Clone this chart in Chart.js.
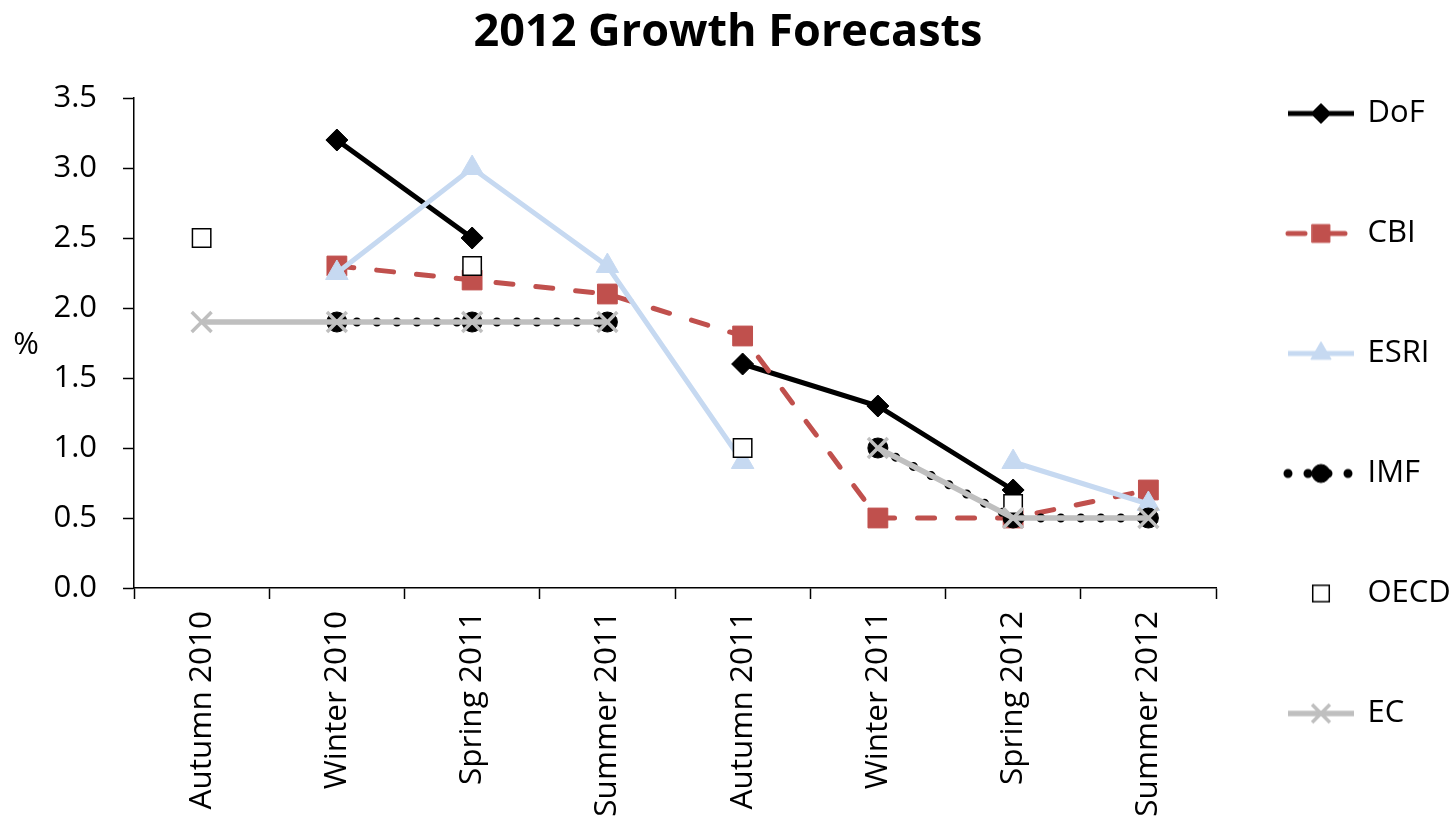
<!DOCTYPE html>
<html>
<head>
<meta charset="utf-8">
<title>2012 Growth Forecasts</title>
<script src="https://cdn.jsdelivr.net/npm/chart.js@4.4.1/dist/chart.umd.min.js"></script>
<style>
  html, body { margin: 0; padding: 0; background: #fff; }
  #wrap { width: 1456px; height: 826px; position: relative; }
</style>
</head>
<body>
<div id="wrap"><canvas id="chart"></canvas></div>
<script>
// ============================================================
// Data
// ============================================================

const CATEGORIES = ['Autumn 2010', 'Winter 2010', 'Spring 2011', 'Summer 2011',
                    'Autumn 2011', 'Winter 2011', 'Spring 2012', 'Summer 2012'];

const DOF  = [null, 3.2, 2.5, null, 1.6, 1.3, 0.7, null];
const CBI  = [null, 2.3, 2.2, 2.1, 1.8, 0.5, 0.5, 0.7];
const ESRI = [null, 2.25, 3.0, 2.3, 0.9, null, 0.9, 0.6];
const IMF  = [null, 1.9, 1.9, 1.9, null, 1.0, 0.5, 0.5];
const OECD = [2.5, null, 2.3, null, 1.0, null, 0.6, null];
const EC   = [1.9, 1.9, 1.9, 1.9, null, 1.0, 0.5, 0.5];

const Y_TICKS = [0, 0.5, 1.0, 1.5, 2.0, 2.5, 3.0, 3.5];
const Y_UNIT = '%';
const TITLE = '2012 Growth Forecasts';

// ============================================================
// Styles
// ============================================================

const FONT = "'Open Sans', 'DejaVu Sans', sans-serif";
const RED = '#C0504D';
const BLUE = '#C6D9F1';
const GREY = '#BFBFBF';

// ============================================================
// Legend symbols (line + marker drawn into a small canvas)
// ============================================================

function drawMarker(g, style, x, y, r, fill, stroke, bw) {
  g.save();
  g.fillStyle = fill;
  g.strokeStyle = stroke;
  g.lineWidth = bw;
  g.beginPath();
  if (style === 'rectRot') {
    g.moveTo(x, y - r); g.lineTo(x + r, y); g.lineTo(x, y + r); g.lineTo(x - r, y);
    g.closePath(); g.fill(); g.stroke();
  } else if (style === 'rect') {
    const s = r * Math.SQRT1_2;
    g.rect(x - s, y - s, 2 * s, 2 * s); g.fill(); g.stroke();
  } else if (style === 'triangle') {
    for (let k = 0; k < 3; k++) {
      const a = k * 2 * Math.PI / 3;
      const px = x + Math.sin(a) * r, py = y - Math.cos(a) * r;
      if (k === 0) g.moveTo(px, py); else g.lineTo(px, py);
    }
    g.closePath(); g.fill(); g.stroke();
  } else if (style === 'circle') {
    g.arc(x, y, r, 0, Math.PI * 2); g.fill(); g.stroke();
  } else if (style === 'crossRot') {
    const s = r * Math.SQRT1_2;
    g.moveTo(x - s, y - s); g.lineTo(x + s, y + s);
    g.moveTo(x + s, y - s); g.lineTo(x - s, y + s);
    g.stroke();
  }
  g.restore();
}

function legendSymbol(ds) {
  const c = document.createElement('canvas');
  c.width = 74; c.height = 32;
  const g = c.getContext('2d');
  const y = 16;
  if (ds.showLine !== false) {
    g.strokeStyle = ds.borderColor;
    g.lineWidth = ds.borderWidth;
    g.lineCap = ds.borderCapStyle || 'butt';
    g.setLineDash(ds.borderDash || []);
    g.beginPath(); g.moveTo(5, y); g.lineTo(71, y); g.stroke();
    g.setLineDash([]);
  }
  drawMarker(g, ds.pointStyle, 38, y, ds.pointRadius * 0.9,
             ds.pointBackgroundColor, ds.pointBorderColor, ds.pointBorderWidth);
  return c;
}

// ============================================================
// Plugins
// ============================================================

// horizontal "%" beside the value axis
const unitLabel = {
  id: 'unitLabel',
  afterDraw(chart) {
    const { ctx, chartArea, scales } = chart;
    ctx.save();
    ctx.font = `31px ${FONT}`;
    ctx.fillStyle = '#000';
    ctx.textAlign = 'center';
    ctx.textBaseline = 'middle';
    ctx.fillText(Y_UNIT, scales.y.left + 26, (chartArea.top + chartArea.bottom) / 2 + 2);
    ctx.restore();
  },
};

// ============================================================
// Chart
// ============================================================

function makeDataset(label, data, style) {
  return Object.assign({
    label,
    data,
    tension: 0,
    spanGaps: false,
    borderWidth: 5,
    pointBorderWidth: 1,
  }, style);
}

const datasets = [
  makeDataset('DoF', DOF, {
    order: 6, borderColor: '#000', pointStyle: 'rectRot', pointRadius: 11,
    pointBackgroundColor: '#000', pointBorderColor: '#000',
  }),
  makeDataset('CBI', CBI, {
    order: 5, borderColor: RED, borderDash: [17, 23], borderCapStyle: 'round',
    pointStyle: 'rect', pointRadius: 14,
    pointBackgroundColor: RED, pointBorderColor: RED,
  }),
  makeDataset('ESRI', ESRI, {
    order: 4, borderColor: BLUE, pointStyle: 'triangle', pointRadius: 13,
    pointBackgroundColor: BLUE, pointBorderColor: BLUE,
  }),
  makeDataset('IMF', IMF, {
    order: 3, borderColor: '#000', borderWidth: 9, borderDash: [0, 20], borderCapStyle: 'round',
    pointStyle: 'circle', pointRadius: 10,
    pointBackgroundColor: '#000', pointBorderColor: '#000',
  }),
  makeDataset('OECD', OECD, {
    order: 2, showLine: false, borderColor: '#000', pointStyle: 'rect', pointRadius: 13,
    pointBackgroundColor: '#fff', pointBorderColor: '#000', pointBorderWidth: 1.5,
  }),
  makeDataset('EC', EC, {
    order: 1, borderColor: GREY, borderWidth: 5.5, pointStyle: 'crossRot', pointRadius: 14,
    pointBackgroundColor: GREY, pointBorderColor: GREY, pointBorderWidth: 3.5,
  }),
];

Chart.defaults.font.family = FONT;
Chart.defaults.color = '#000';

new Chart(document.getElementById('chart'), {
  type: 'line',
  data: { labels: CATEGORIES, datasets },
  plugins: [unitLabel],
  options: {
    responsive: true,
    maintainAspectRatio: false,
    animation: false,
    events: [],
    layout: { padding: { bottom: 8 } },
    scales: {
      x: {
        offset: true,
        afterFit(scale) { scale.height = 230; },
        grid: {
          offset: true, drawOnChartArea: false, drawTicks: true,
          tickLength: 11, tickColor: '#000', tickWidth: 1.5,
        },
        border: { display: true, color: '#000', width: 1.5 },
        ticks: {
          autoSkip: false, minRotation: 90, maxRotation: 90, padding: 12,
          font: { size: 31.5 }, color: '#000',
        },
      },
      y: {
        min: Y_TICKS[0],
        max: Y_TICKS[Y_TICKS.length - 1],
        afterFit(scale) { scale.width = 134; },
        afterBuildTicks(scale) { scale.ticks = Y_TICKS.map(v => ({ value: v })); },
        grid: {
          drawOnChartArea: false, drawTicks: true,
          tickLength: 11, tickColor: '#000', tickWidth: 1.5,
        },
        border: { display: true, color: '#000', width: 1.5 },
        ticks: {
          padding: 26, font: { size: 31 }, color: '#000',
          callback: v => Number(v).toFixed(1),
        },
      },
    },
    plugins: {
      tooltip: { enabled: false },
      title: {
        display: true,
        text: TITLE,
        color: '#000',
        font: { size: 45, weight: 'bold', lineHeight: 1.2 },
        padding: { top: 6, bottom: 38 },
      },
      legend: {
        position: 'right',
        align: 'end',
        maxWidth: 240,
        labels: {
          usePointStyle: true,
          pointStyleWidth: 64,
          padding: 72,
          color: '#000',
          font: { size: 31, lineHeight: '48px' },
          generateLabels(chart) {
            return chart.data.datasets.map((ds, i) => ({
              text: [ds.label],
              pointStyle: legendSymbol(ds),
              fillStyle: 'transparent',
              strokeStyle: 'transparent',
              lineWidth: 0,
              fontColor: '#000',
              hidden: false,
              datasetIndex: i,
            }));
          },
        },
      },
    },
  },
});
</script>
</body>
</html>
